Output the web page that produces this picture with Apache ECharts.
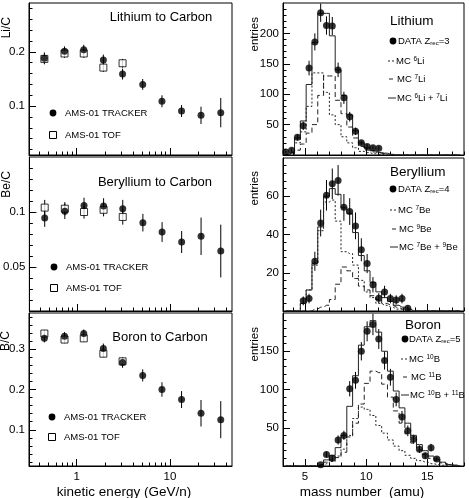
<!DOCTYPE html>
<html>
<head>
<meta charset="utf-8">
<script src="https://cdn.jsdelivr.net/npm/echarts@6/dist/echarts.min.js"></script>
<style>
html,body{margin:0;padding:0;background:#fff;}
#box{width:469px;height:498px;}
</style>
</head>
<body>
<div id="box"></div>
<script>
var FONT = '"Liberation Sans", Arial, Helvetica, sans-serif';

// kinetic energy bins (GeV/n)
var energy = [0.45, 0.74, 1.19, 1.93, 3.1, 5.1, 8.2, 13.3, 21.5, 35];

// Li/C
var liTrk = [0.188, 0.201, 0.204, 0.185, 0.159, 0.140, 0.109, 0.091, 0.083, 0.088];
var liTrkErr = [0.011, 0.009, 0.009, 0.010, 0.010, 0.010, 0.011, 0.011, 0.016, 0.027];
var liTof = [0.187, 0.197, 0.197, 0.171, 0.179];
var liTofErr = [0.008, 0.008, 0.008, 0.008, 0.008];

// Be/C
var beTrk = [0.0945, 0.1006, 0.106, 0.1055, 0.103, 0.0903, 0.0818, 0.0727, 0.0779, 0.0645];
var beTrkErr = [0.008, 0.007, 0.007, 0.007, 0.008, 0.008, 0.009, 0.010, 0.017, 0.024];
var beTof = [0.104, 0.103, 0.100, 0.102, 0.0955];
var beTofErr = [0.007, 0.006, 0.006, 0.006, 0.007];

// B/C
var bTrk = [0.327, 0.3325, 0.339, 0.302, 0.267, 0.235, 0.200, 0.175, 0.141, 0.125];
var bTrkErr = [0.010, 0.010, 0.010, 0.012, 0.013, 0.015, 0.018, 0.021, 0.033, 0.046];
var bTof = [0.339, 0.324, 0.327, 0.289, 0.270];
var bTofErr = [0.009, 0.009, 0.009, 0.009, 0.009];

// mass histogram bin centres (amu)
var massBins = [3.43, 3.905, 4.38, 4.855, 5.33, 5.805, 6.28, 6.755, 7.23, 7.705, 8.18, 8.655, 9.13, 9.605, 10.08,
  10.555, 11.03, 11.505, 11.98, 12.455, 12.93, 13.405, 13.88, 14.355, 14.83, 15.305, 15.78, 16.255, 16.73, 17.205, 17.68];

// Lithium
var liData = [5, 8, 29, 48, 143, 186, 234, 213, 212, 140, 94, 63, 39, 20, 14, 12, 11];
var liDataErr = [2, 3, 5, 7, 12, 14, 15, 15, 15, 12, 10, 8, 6, 4, 4, 3, 3];
var li6 = [1, 3, 20, 38, 80, 135, 135, 103, 66, 50, 30, 20, 12, 6, 4, 2, 1, 1, 0, 0, 0, 0, 0, 0, 0, 0, 0, 0, 0, 0, 0];
var li7 = [0, 1, 8, 18, 36, 50, 98, 130, 130, 90, 68, 46, 28, 14, 8, 5, 3, 2, 1, 0, 0, 0, 0, 0, 0, 0, 0, 0, 0, 0, 0];
var liSum = [1, 4, 28, 56, 116, 185, 233, 233, 196, 140, 98, 66, 40, 20, 12, 7, 4, 3, 1, 0, 0, 0, 0, 0, 0, 0, 0, 0, 0, 0, 0];

// Beryllium (data starts at bin 3)
var beData = [5.3, 6.5, 26, 46, 60.5, 66.5, 68.3, 54.2, 52, 44.5, 32, 24.8, 13.7, 6.7, 10, 6.5, 5.8, 6.5, 1.5];
var beDataErr = [2.3, 2.5, 5, 7, 8, 8, 8, 7, 7, 7, 6, 5, 4, 2.6, 3.2, 2.5, 2.4, 2.5, 1.2];
var be7 = [0, 0, 0, 4, 11, 24, 42, 57, 58, 47, 31, 30, 24, 16, 10, 7, 4, 3, 2, 1, 1, 0, 0, 0, 0, 0, 0, 0, 0, 0, 0];
var be9 = [0, 0, 0, 0, 0, 1, 2, 3, 6, 14, 23, 21, 17, 13, 11, 8, 6, 4, 3, 2, 1, 1, 0, 0, 0, 0, 0, 0, 0, 0, 0];
var beSum = [0, 0, 0, 4, 11, 25, 44, 60, 64, 61, 54, 51, 41, 29, 21, 15, 10, 7, 5, 3, 2, 1, 0, 0, 0, 0, 0, 0, 0, 0, 0];

// Boron (data starts at bin 6)
var bData = [1.5, 15, 10, 34, 40, 101, 112, 150, 176, 185, 166, 138, 116, 87, 64, 46, 35, 22, 13.5, 24, 9];
var bDataErr = [1.2, 4, 3, 6, 6, 10, 11, 12, 13, 14, 13, 12, 11, 9, 8, 7, 6, 5, 4, 5, 3];
var b10 = [0, 0, 0, 0, 0, 0, 1, 3, 6, 13, 22, 40, 62, 77, 74, 66, 53, 43, 34, 26, 20, 14, 10, 7, 5, 3, 2, 1, 0, 0, 0];
var b11 = [0, 0, 0, 0, 0, 0, 1, 5, 8, 11, 18, 38, 56, 81, 108, 124, 122, 107, 90, 72, 56, 42, 30, 21, 15, 10, 7, 4, 2, 1, 0];
var bSum = [0, 0, 0, 0, 0, 0, 2, 8, 14, 24, 40, 78, 118, 158, 182, 190, 175, 150, 124, 98, 76, 56, 40, 28, 20, 13, 9, 5, 2, 1, 0];

// tick labels
var energyTicks = [1, 10];
var massTicks = [5, 10, 15];
var liCTicks = [0.1, 0.2];
var beCTicks = [0.05, 0.1];
var bCTicks = [0.1, 0.2, 0.3];
var liNTicks = [50, 100, 150, 200];
var beNTicks = [20, 40, 60];
var bNTicks = [50, 100, 150];

function steps(a, b, d) {
	var out = [];
	for (var v = a; v <= b + 1e-9; v += d) out.push(+v.toFixed(4));
	return out;
}
var energyMinor = [0.4, 0.5, 0.6, 0.7, 0.8, 0.9, 2, 3, 4, 5, 6, 7, 8, 9, 20, 30, 40];

var grids = [
	{left: 29, top: 3, width: 203, height: 152},
	{left: 29, top: 157, width: 203, height: 154},
	{left: 29, top: 313, width: 203, height: 153},
	{left: 283, top: 3, width: 181, height: 152},
	{left: 283, top: 158, width: 181, height: 153},
	{left: 283, top: 313, width: 181, height: 153}
];

var xAxes = [], yAxes = [];
function addAxes(list, gi, pos, type, min, max, major, minor, labels) {
	var base = {gridIndex: gi, position: pos, type: type, min: min, max: max, offset: 0, splitLine: {show: false}};
	if (type === 'log') base.logBase = 10;
	list.push(Object.assign({}, base, {
		axisLine: {show: true, onZero: false, lineStyle: {color: '#000', width: 1}},
		axisTick: {show: true, inside: true, length: 7, customValues: major, lineStyle: {color: '#000'}},
		axisLabel: {show: labels, customValues: major, color: '#000', fontSize: 11.5, fontFamily: FONT, margin: pos === 'left' ? 4 : 5}
	}));
	list.push(Object.assign({}, base, {
		axisLine: {show: false},
		axisTick: {show: true, inside: true, length: 3.5, customValues: minor, lineStyle: {color: '#000'}},
		axisLabel: {show: false}
	}));
}
// left column
addAxes(xAxes, 0, 'bottom', 'log', 0.308, 46.2, energyTicks, energyMinor, false);
addAxes(xAxes, 1, 'bottom', 'log', 0.308, 46.2, energyTicks, energyMinor, false);
addAxes(xAxes, 2, 'bottom', 'log', 0.308, 46.2, energyTicks, energyMinor, true);
addAxes(yAxes, 0, 'left', 'value', 0.01, 0.29, liCTicks, steps(0.02, 0.28, 0.02), true);
addAxes(yAxes, 1, 'left', 'value', 0.01, 0.15, beCTicks, steps(0.02, 0.14, 0.01), true);
addAxes(yAxes, 2, 'left', 'value', 0.01, 0.39, bCTicks, steps(0.02, 0.38, 0.02), true);
// right column
addAxes(xAxes, 3, 'bottom', 'value', 3.2, 18, massTicks, steps(4, 18, 1), false);
addAxes(xAxes, 4, 'bottom', 'value', 3.2, 18, massTicks, steps(4, 18, 1), false);
addAxes(xAxes, 5, 'bottom', 'value', 3.2, 18, massTicks, steps(4, 18, 1), true);
addAxes(yAxes, 3, 'left', 'value', 0, 250, liNTicks, steps(10, 240, 10), true);
addAxes(yAxes, 4, 'left', 'value', 0, 80, beNTicks, steps(4, 76, 4), true);
addAxes(yAxes, 5, 'left', 'value', 0, 200, bNTicks, steps(10, 190, 10), true);

var series = [];
function errBars(gi, xs, ys, es, start) {
	series.push({
		type: 'custom', xAxisIndex: 2 * gi, yAxisIndex: 2 * gi, z: 1, silent: true,
		data: ys.map(function (v, i) { return [xs[i + start], v - es[i], v + es[i]]; }),
		encode: {x: 0, y: [1, 2]},
		renderItem: function (params, api) {
			var lo = api.coord([api.value(0), api.value(1)]);
			var hi = api.coord([api.value(0), api.value(2)]);
			return {type: 'line', shape: {x1: lo[0], y1: lo[1], x2: hi[0], y2: hi[1]}, style: {stroke: '#000', lineWidth: 1}};
		}
	});
}
function points(gi, xs, ys, start, hollow) {
	series.push({
		type: 'scatter', xAxisIndex: 2 * gi, yAxisIndex: 2 * gi, z: hollow ? 2 : 3, silent: true,
		symbol: hollow ? 'rect' : 'circle', symbolSize: hollow ? 7 : 7,
		itemStyle: hollow ? {color: '#fff', borderColor: '#000', borderWidth: 1} : {color: '#000'},
		data: ys.map(function (v, i) { return [xs[i + start], v]; })
	});
	// error bars go with every set of points
}
function hist(gi, vals, dash) {
	series.push({
		type: 'line', xAxisIndex: 2 * gi, yAxisIndex: 2 * gi, step: 'middle', symbol: 'none', z: 2, silent: true,
		data: massBins.map(function (m, i) { return [m, vals[i]]; }),
		lineStyle: {color: '#222', width: 1, type: dash}
	});
}

errBars(0, energy, liTof, liTofErr, 0); points(0, energy, liTof, 0, true);
errBars(0, energy, liTrk, liTrkErr, 0); points(0, energy, liTrk, 0, false);
errBars(1, energy, beTof, beTofErr, 0); points(1, energy, beTof, 0, true);
errBars(1, energy, beTrk, beTrkErr, 0); points(1, energy, beTrk, 0, false);
errBars(2, energy, bTof, bTofErr, 0); points(2, energy, bTof, 0, true);
errBars(2, energy, bTrk, bTrkErr, 0); points(2, energy, bTrk, 0, false);

hist(3, li6, [2, 2]); hist(3, li7, [5, 3]); hist(3, liSum, 'solid');
errBars(3, massBins, liData, liDataErr, 0); points(3, massBins, liData, 0, false);
hist(4, be7, [2, 2]); hist(4, be9, [5, 3]); hist(4, beSum, 'solid');
errBars(4, massBins, beData, beDataErr, 3); points(4, massBins, beData, 3, false);
hist(5, b10, [2, 2]); hist(5, b11, [5, 3]); hist(5, bSum, 'solid');
errBars(5, massBins, bData, bDataErr, 6); points(5, massBins, bData, 6, false);

// texts, legends
var graphics = [];
var sup = {fontSize: 6.5, fontFamily: FONT, fill: '#000', verticalAlign: 'top'};
var sub = {fontSize: 6, fontFamily: FONT, fill: '#000', verticalAlign: 'bottom'};
function txt(x, y, s, size, align, rot) {
	graphics.push({type: 'text', x: x, y: y, rotation: rot || 0, silent: true,
		style: {text: s, fill: '#000', fontSize: size, fontFamily: FONT, align: align || 'left', verticalAlign: 'middle', rich: {s: sup, r: sub}}});
}
function dot(x, y) {
	graphics.push({type: 'circle', silent: true, shape: {cx: x, cy: y, r: 3.4}, style: {fill: '#000'}});
}
function box(x, y) {
	graphics.push({type: 'rect', silent: true, shape: {x: x - 3.5, y: y - 3.5, width: 7, height: 7}, style: {fill: '#fff', stroke: '#000', lineWidth: 1}});
}
function seg(x1, x2, y, dash) {
	graphics.push({type: 'line', silent: true, shape: {x1: x1, y1: y, x2: x2, y2: y}, style: {stroke: '#222', lineWidth: 1, lineDash: dash}});
}

txt(161, 17, 'Lithium to Carbon', 13, 'center');
txt(155, 182, 'Beryllium to Carbon', 13, 'center');
txt(160, 337, 'Boron to Carbon', 13, 'center');
[[53, 113, 135], [54, 267, 288], [52, 417, 437]].forEach(function (p) {
	dot(p[0], p[1]); txt(p[0] + 12, p[1], 'AMS-01 TRACKER', 9.5);
	box(p[0], p[2]); txt(p[0] + 12, p[2], 'AMS-01 TOF', 9.5);
});
txt(7, 17, 'Li/C', 12, 'right', Math.PI / 2);
txt(7, 171, 'Be/C', 12, 'right', Math.PI / 2);
txt(6, 331, 'B/C', 12, 'right', Math.PI / 2);
txt(124, 492, 'kinetic energy (GeV/n)', 13.5, 'center');

txt(255, 17, 'entries', 11.5, 'right', Math.PI / 2);
txt(255, 171, 'entries', 11.5, 'right', Math.PI / 2);
txt(255, 327, 'entries', 11.5, 'right', Math.PI / 2);
txt(362, 492, 'mass number  (amu)', 13.5, 'center');

txt(390, 21, 'Lithium', 13.5);
dot(393, 41); txt(398, 41, 'DATA Z{r|rec}=3', 9.5);
seg(388, 395, 61, [2, 2]); txt(396, 61, 'MC {s|6}Li', 9.5);
seg(389, 393, 79); txt(397, 79, 'MC {s|7}Li', 9.5);
seg(388, 396, 98); txt(397, 98, 'MC {s|6}Li + {s|7}Li', 9.5);

txt(390, 172, 'Beryllium', 13.5);
dot(393, 189); txt(398, 189, 'DATA Z{r|rec}=4', 9.5);
seg(390, 397, 210, [2, 2]); txt(398, 210, 'MC {s|7}Be', 9.5);
seg(392, 396, 229); txt(399, 229, 'MC {s|9}Be', 9.5);
seg(390, 398, 247); txt(399, 247, 'MC {s|7}Be + {s|9}Be', 9.5);

txt(405, 325, 'Boron', 13.5);
dot(405, 339); txt(409, 339, 'DATA Z{r|rec}=5', 9.5);
seg(401, 408, 359, [2, 2]); txt(409, 359, 'MC {s|10}B', 9.5);
seg(403, 407, 377); txt(411, 377, 'MC {s|11}B', 9.5);
seg(401, 409, 395); txt(410, 395, 'MC {s|10}B + {s|11}B', 9.5);

var option = {
	animation: false,
	backgroundColor: '#fff',
	grid: grids.map(function (g) {
		return Object.assign({show: true, borderColor: '#000', borderWidth: 1, backgroundColor: 'transparent'}, g);
	}),
	xAxis: xAxes,
	yAxis: yAxes,
	series: series,
	graphic: graphics
};
var chart = echarts.init(document.getElementById('box'));
chart.setOption(option);
</script>
</body>
</html>
